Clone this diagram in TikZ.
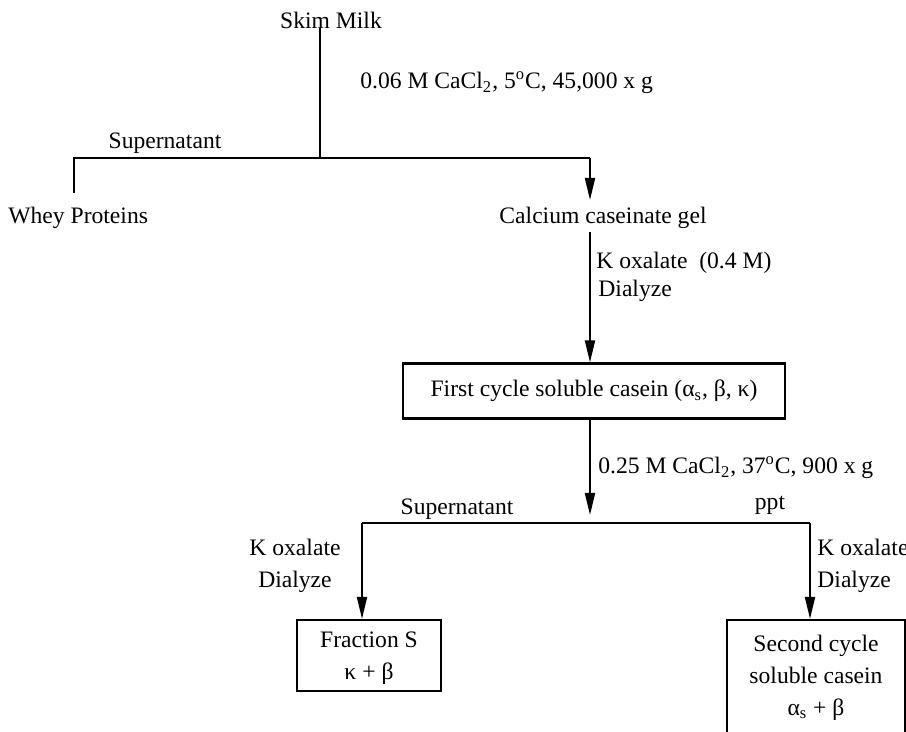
\documentclass[tikz,border=0pt]{standalone}
\usepackage{fontspec}
\setmainfont{Liberation Serif}
\usetikzlibrary{arrows.meta}
\begin{document}
\begin{tikzpicture}[x=0.5pt,y=-0.5pt,
  font=\fontsize{11.8}{16}\selectfont,
  conn/.style={line width=1pt},
  arr/.style={line width=1pt,-{Triangle[length=11pt,width=5pt]}},
  lbl/.style={inner sep=0pt},
  boxnode/.style={draw,line width=1.1pt,align=center,inner sep=0pt}]
\useasboundingbox (0,0) rectangle (906,732);
% top
\node[lbl] (skim) at (331,20) {Skim Milk};
\coordinate (s0) at (320,28);
\coordinate (j1) at (320,158);
\coordinate (b1l) at (74,158);
\coordinate (b1r) at (590,158);
\coordinate (wend) at (74,193);
\coordinate (gtop) at (590,200);
\coordinate (gbot) at (590,232);
\node[lbl,anchor=west] (c1) at (360,83) {0.06 M CaCl\textsubscript{2}, 5\textsuperscript{o}C, 45,000 x g};
\node[lbl] (sup1) at (165,143) {Supernatant};
\node[lbl,anchor=west] (whey) at (8,218) {Whey Proteins};
\node[lbl] (gel) at (603,218) {Calcium caseinate gel};
\draw[conn] (s0) -- (j1);
\draw[conn] (wend) -- (b1l) -- (b1r);
\draw[arr] (b1r) -- (gtop);
% first cycle
\node[boxnode,minimum width=191pt,minimum height=27.5pt] (first) at (594,391) {First cycle soluble casein (α\textsubscript{s}, β, κ)};
\node[lbl,anchor=west] (k1) at (596,263) {K oxalate\ \ (0.4 M)};
\node[lbl,anchor=west] (d1) at (598,291) {Dialyze};
\draw[arr] (gbot) -- (gbot |- first.north);
% second split
\coordinate (ftop) at (590,419);
\coordinate (j2) at (590,523);
\coordinate (b2l) at (362,523);
\coordinate (b2r) at (810,523);
\node[lbl,anchor=west] (c2) at (598,468) {0.25 M CaCl\textsubscript{2}, 37\textsuperscript{o}C, 900 x g};
\draw[arr] (ftop |- first.south) -- (590,515);
\draw[conn] (b2l) -- (b2r);
\node[lbl] (sup2) at (457,509) {Supernatant};
\node[lbl] (ppt) at (770,505) {ppt};
\node[lbl,align=center] (k2) at (295,566) {K oxalate\\Dialyze};
\node[lbl,align=left,anchor=west] (k3) at (817,566) {K oxalate\\Dialyze};
% boxes
\node[boxnode,minimum width=72pt,minimum height=35.5pt,text depth=0pt] (fs) at (369,655.5) {Fraction S\\κ + β};
\node[boxnode,minimum width=89pt,minimum height=57.5pt] (sc) at (816,677.5) {Second cycle\\soluble casein\\α\textsubscript{s} + β};
\draw[arr] (b2l) -- (b2l |- fs.north);
\draw[arr] (b2r) -- (b2r |- sc.north);
\end{tikzpicture}
\end{document}
